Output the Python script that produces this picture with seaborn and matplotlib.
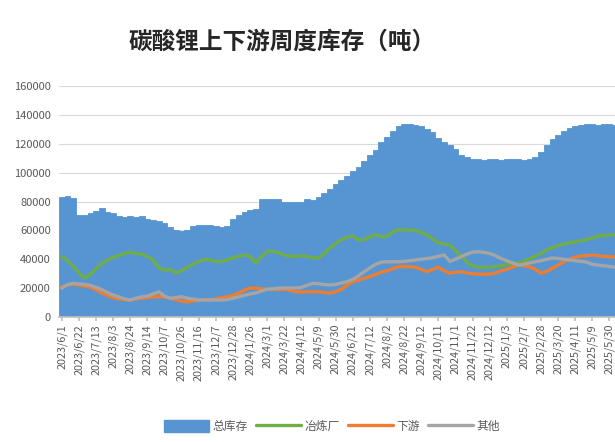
import pandas as pd
import matplotlib
matplotlib.use("Agg")
import matplotlib.pyplot as plt
import seaborn as sns
from matplotlib.patches import Patch
from matplotlib.lines import Line2D

# estilo base
sns.set_theme(style="whitegrid")
plt.rcParams["font.family"] = ["Noto Sans CJK SC", "DejaVu Sans"]

# rotulos do eixo x (um a cada 3 semanas)
tick_labels = [
    "2023/6/1", "2023/6/22", "2023/7/13", "2023/8/3", "2023/8/24", "2023/9/14",
    "2023/10/7", "2023/10/26", "2023/11/16", "2023/12/7", "2023/12/28", "2024/1/26",
    "2024/3/1", "2024/3/22", "2024/4/12", "2024/5/9", "2024/5/30", "2024/6/21",
    "2024/7/12", "2024/8/2", "2024/8/22", "2024/9/12", "2024/10/11", "2024/11/1",
    "2024/11/22", "2024/12/12", "2025/1/3", "2025/2/7", "2025/2/28", "2025/3/20",
    "2025/4/11", "2025/5/9", "2025/5/30",
]

# 总库存 (barras)
total = [
    83000, 84000, 82500, 71000, 70500, 72000, 73500, 75500, 72500, 72000,
    70000, 69500, 70000, 69000, 70000, 68000, 67500, 66500, 65000, 62500,
    60500, 59500, 60500, 63000, 63500, 63500, 63500, 63000, 62000, 63000,
    68000, 71000, 73000, 74000, 75000, 81500, 82000, 82000, 82000, 79500,
    80000, 80000, 80000, 81500, 81000, 83000, 86000, 89000, 92000, 95000,
    98000, 101000, 104000, 108000, 112000, 116000, 121000, 125000, 129000, 132000,
    134000, 134000, 133000, 132000, 130000, 128000, 124000, 121000, 119000, 116500,
    112000, 110500, 109500, 109500, 109000, 109500, 109500, 109000, 109500, 109500,
    109500, 109000, 109500, 111000, 114000, 119000, 123000, 126000, 129000, 131000,
    132000, 133000, 133500, 133500, 133000, 133500, 133500, 133000,
]

# 冶炼厂
smelter = [
    41800, 39000, 35000, 30500, 27000, 29500, 33500, 37000, 39500, 41500,
    42500, 44000, 45000, 44000, 43500, 42000, 39500, 34000, 32500, 33000,
    30500, 32000, 34500, 36500, 38500, 40000, 39500, 38500, 38500, 39500,
    41000, 42000, 43000, 42000, 37500, 42000, 45500, 45500, 44500, 43000,
    42000, 42000, 42500, 42000, 41000, 41000, 44000, 47500, 51000, 53500,
    55500, 56000, 53500, 53500, 55500, 57000, 55500, 56000, 59000, 60500,
    60500, 60000, 60000, 58500, 57000, 54000, 51500, 50500, 50000, 46000,
    42000, 38000, 35500, 34500, 34500, 34500, 35000, 35500, 36500, 37000,
    37500, 38500, 40500, 42000, 44000, 46500, 48000, 49500, 50500, 51500,
    52000, 53000, 53500, 55000, 56000, 56500, 56800, 57000,
]

# 下游
downstream = [
    21000, 22000, 22800, 22000, 21500, 20500, 19000, 16600, 15000, 13500,
    12500, 12000, 11800, 12500, 13000, 13500, 14000, 14000, 14000, 13000,
    12000, 11000, 10600, 11000, 11800, 12000, 12000, 12500, 13500, 14000,
    15000, 16600, 18500, 20100, 20000, 19500, 19200, 19200, 19000, 19200,
    18500, 17500, 17500, 17500, 17500, 17500, 17000, 16400, 17500, 19200,
    22000, 24500, 25500, 26800, 28000, 29500, 31000, 32000, 33500, 34800,
    35000, 34800, 34500, 33000, 31400, 33000, 34500, 32000, 30300, 31000,
    31400, 30500, 30000, 29700, 29700, 29700, 30500, 32000, 33000, 34500,
    36000, 35500, 34800, 33000, 30300, 31500, 33800, 36000, 38300, 40000,
    41500, 42200, 42500, 42900, 42500, 42000, 41800, 41500,
]

# 其他
other = [
    20000, 22500, 23300, 23000, 22500, 22000, 20500, 19000, 17000, 15200,
    14000, 12500, 11800, 13000, 14000, 14500, 16000, 17500, 14500, 13000,
    13500, 14000, 13000, 12500, 11800, 11800, 11800, 11800, 11800, 12000,
    13000, 14000, 15000, 16000, 16600, 18000, 19200, 19500, 20000, 20100,
    20100, 20100, 20500, 22000, 23300, 23000, 22500, 22200, 22500, 23500,
    24500, 26000, 28500, 31400, 34000, 36500, 38000, 38300, 38300, 38300,
    38500, 39000, 39500, 40000, 40500, 41000, 42000, 43000, 38500, 40000,
    41800, 43500, 45000, 45200, 44800, 44000, 42500, 40500, 39000, 37500,
    36000, 36500, 37500, 38300, 39000, 40000, 40900, 40500, 40000, 39500,
    39000, 38500, 38000, 36500, 36000, 35500, 35000, 34500,
]

cor_total = "#5795d2"
cor_smelter = "#70ad47"
cor_down = "#ed7d31"
cor_other = "#a5a5a5"

df = pd.DataFrame({
    "idx": range(len(total)),
    "总库存": total,
    "冶炼厂": smelter,
    "下游": downstream,
    "其他": other,
})

fig = plt.figure(figsize=(6.15, 4.42), dpi=100)
ax = fig.add_axes([0.0959, 0.2828, 0.909, 0.5226])

sns.barplot(data=df, x="idx", y="总库存", width=1.0, color=cor_total,
            saturation=1, linewidth=0.6, edgecolor=cor_total, ax=ax, zorder=2)
sns.lineplot(data=df, x="idx", y="冶炼厂", color=cor_smelter, linewidth=2.4, ax=ax, zorder=3)
sns.lineplot(data=df, x="idx", y="下游", color=cor_down, linewidth=2.4, ax=ax, zorder=3)
sns.lineplot(data=df, x="idx", y="其他", color=cor_other, linewidth=2.4, ax=ax, zorder=3)

ax.set_xlim(-0.5, len(total) - 0.5)
ax.set_ylim(0, 160000)
ax.set_yticks(range(0, 160001, 20000))
ax.set_yticklabels([str(v) for v in range(0, 160001, 20000)], fontsize=8, color="#595959")
ax.set_xticks(range(0, 3 * len(tick_labels), 3))
ax.set_xticklabels(tick_labels, rotation=90, fontsize=7.8, color="#595959")
ax.set_xlabel("")
ax.set_ylabel("")

ax.grid(axis="y", color="#d9d9d9", linewidth=0.8)
ax.grid(axis="x", visible=False)
for s in ["top", "right", "left"]:
    ax.spines[s].set_visible(False)
ax.spines["bottom"].set_color("#bfbfbf")
ax.tick_params(axis="x", length=3, color="#bfbfbf", pad=2, bottom=True)
ax.tick_params(axis="y", length=0, pad=6)

fig.text(0.458, 0.905, "碳酸锂上下游周度库存（吨）", ha="center", va="center",
         fontsize=17, fontweight="bold", color="#262626")

handles = [
    Patch(facecolor=cor_total, edgecolor=cor_total),
    Line2D([0], [0], color=cor_smelter, linewidth=2.4),
    Line2D([0], [0], color=cor_down, linewidth=2.4),
    Line2D([0], [0], color=cor_other, linewidth=2.4),
]
fig.legend(handles, ["总库存", "冶炼厂", "下游", "其他"], loc="center",
           bbox_to_anchor=(0.54, 0.035), ncol=4, frameon=False, fontsize=8.5,
           handlelength=3.8, handleheight=1.1, columnspacing=0.7, handletextpad=0.3,
           labelcolor="#595959")

plt.savefig("out.png", dpi=100)
plt.close()
